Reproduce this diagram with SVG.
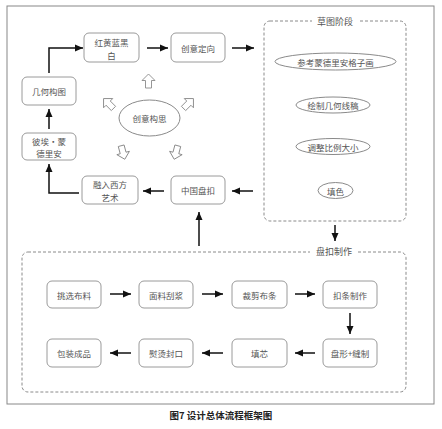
<svg xmlns="http://www.w3.org/2000/svg" width="442" height="429" viewBox="0 0 442 429">
<style>
.box{fill:#fff;stroke:#9a9a9a;stroke-width:1}
.ell{fill:#fff;stroke:#8a8a8a;stroke-width:1}
.dash{fill:none;stroke:#8a8a8a;stroke-width:1;stroke-dasharray:3 2}
.t{font-family:"Noto Sans CJK SC","Noto Sans CJK JP",sans-serif;font-size:8.5px;fill:#555;text-anchor:middle;dominant-baseline:central}
.lab{font-family:"Noto Sans CJK SC",sans-serif;font-size:9px;fill:#555;text-anchor:middle;dominant-baseline:central}
.cap{font-family:"Noto Sans CJK SC",sans-serif;font-size:9.5px;font-weight:bold;fill:#222;text-anchor:middle;dominant-baseline:central}
.c{fill:none;stroke:#111;stroke-width:1.5}
.ha{fill:#fff;stroke:#8a8a8a;stroke-width:0.9}
</style>
<defs>
<marker id="ah" markerUnits="userSpaceOnUse" markerWidth="8" markerHeight="8" viewBox="0 0 8 8" refX="8" refY="4" orient="auto">
<path d="M0,0.5 L8,4 L0,7.5 Z" fill="#111"/>
</marker>
<polygon id="hol" points="0,-7 6.5,-0.5 3,-0.5 3,7 -3,7 -3,-0.5 -6.5,-0.5" class="ha"/>
</defs>
<rect x="7" y="6" width="427" height="398" fill="#fff" stroke="#888" stroke-width="1"/>

<g id="sketch-stage">
<rect x="264" y="21" width="142" height="200" rx="6" class="dash"/>
<rect x="312" y="15" width="46" height="12" fill="#fff"/>
<text x="335" y="21" class="lab">草图阶段</text>
</g>
<g id="production-stage">
<rect x="22" y="252" width="384" height="140" rx="6" class="dash"/>
<rect x="310" y="245" width="48" height="12" fill="#fff"/>
<text x="334" y="251" class="lab">盘扣制作</text>
</g>

<g id="n-hhlhb"><rect x="84" y="33" width="55" height="29" rx="5" class="box"/><text x="111.5" y="42" class="t">红黄蓝黑</text><text x="111.5" y="55" class="t">白</text></g>
<g id="n-cydx"><rect x="171" y="33" width="54" height="29" rx="5" class="box"/><text x="198" y="47.5" class="t">创意定向</text></g>
<g id="n-jhgt"><rect x="22" y="77" width="54" height="28" rx="5" class="box"/><text x="49" y="91" class="t">几何构图</text></g>
<g id="n-mdla"><rect x="22" y="133" width="54" height="27" rx="5" class="box"/><text x="49" y="141" class="t">彼埃・蒙</text><text x="49" y="153" class="t">德里安</text></g>
<g id="n-rrxf"><rect x="82" y="176" width="56" height="28" rx="5" class="box"/><text x="110" y="184" class="t">融入西方</text><text x="110" y="197" class="t">艺术</text></g>
<g id="n-zgpk"><rect x="171" y="176" width="54" height="28" rx="5" class="box"/><text x="198" y="190" class="t">中国盘扣</text></g>
<g id="n-cygs"><ellipse cx="149.5" cy="118" rx="30.5" ry="18" class="ell"/><text x="149.5" y="118" class="t">创意构思</text></g>

<g id="hollow-arrows">
<use href="#hol" transform="translate(148.5,81)"/>
<use href="#hol" transform="translate(108.5,103.5) rotate(-45)"/>
<use href="#hol" transform="translate(188.5,103.5) rotate(45)"/>
<use href="#hol" transform="translate(123,152.5) rotate(165)"/>
<use href="#hol" transform="translate(176,152.5) rotate(195)"/>
</g>

<g id="s1"><ellipse cx="335.5" cy="61.5" rx="60.5" ry="8.5" class="ell"/><text x="335.5" y="61.5" class="t">参考蒙德里安格子画</text></g>
<g id="s2"><ellipse cx="333" cy="105" rx="37" ry="8" class="ell"/><text x="333" y="105" class="t">绘制几何线稿</text></g>
<g id="s3"><ellipse cx="333" cy="146.5" rx="37" ry="8" class="ell"/><text x="333" y="146.5" class="t">调整比例大小</text></g>
<g id="s4"><ellipse cx="335.5" cy="190.5" rx="17.5" ry="8" class="ell"/><text x="335.5" y="190.5" class="t">填色</text></g>

<g id="p1"><rect x="47" y="281" width="54" height="27" rx="5" class="box"/><text x="74" y="294.5" class="t">挑选布料</text></g>
<g id="p2"><rect x="139" y="281" width="54" height="27" rx="5" class="box"/><text x="166" y="294.5" class="t">面料刮浆</text></g>
<g id="p3"><rect x="232" y="281" width="55" height="27" rx="5" class="box"/><text x="259.5" y="294.5" class="t">裁剪布条</text></g>
<g id="p4"><rect x="323" y="281" width="54" height="27" rx="5" class="box"/><text x="350" y="294.5" class="t">扣条制作</text></g>
<g id="p5"><rect x="323" y="339" width="54" height="28" rx="5" class="box"/><text x="350" y="353" class="t">盘形+缝制</text></g>
<g id="p6"><rect x="232" y="339" width="55" height="28" rx="5" class="box"/><text x="259.5" y="353" class="t">填芯</text></g>
<g id="p7"><rect x="139" y="339" width="54" height="28" rx="5" class="box"/><text x="166" y="353" class="t">熨烫封口</text></g>
<g id="p8"><rect x="47" y="339" width="54" height="28" rx="5" class="box"/><text x="74" y="353" class="t">包装成品</text></g>

<g id="connectors">
<path d="M49,73 V48 H83" class="c" marker-end="url(#ah)"/>
<path d="M147,48 H168" class="c" marker-end="url(#ah)"/>
<path d="M232,48 H254" class="c" marker-end="url(#ah)"/>
<path d="M49,129 V109" class="c" marker-end="url(#ah)"/>
<path d="M79,193 H49 V164" class="c" marker-end="url(#ah)"/>
<path d="M164,191 H143" class="c" marker-end="url(#ah)"/>
<path d="M253,191 H232" class="c" marker-end="url(#ah)"/>
<path d="M199,246 V212" class="c" marker-end="url(#ah)"/>
<path d="M335,225 V241" class="c" marker-end="url(#ah)"/>
<path d="M110,294 H131" class="c" marker-end="url(#ah)"/>
<path d="M202,294 H223" class="c" marker-end="url(#ah)"/>
<path d="M295,294 H315" class="c" marker-end="url(#ah)"/>
<path d="M350,313 V334" class="c" marker-end="url(#ah)"/>
<path d="M131,353 H110" class="c" marker-end="url(#ah)"/>
<path d="M223,353 H202" class="c" marker-end="url(#ah)"/>
<path d="M315,353 H295" class="c" marker-end="url(#ah)"/>
</g>

<text x="221" y="415" class="cap">图7 设计总体流程框架图</text>
</svg>
